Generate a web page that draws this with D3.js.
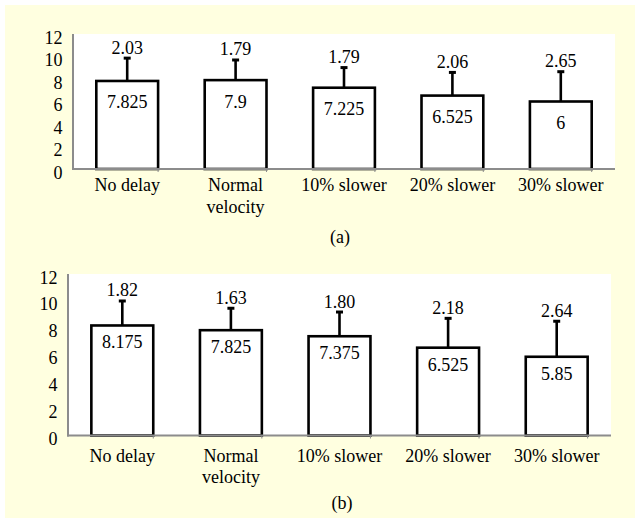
<!DOCTYPE html>
<html>
<head>
<meta charset="utf-8">
<script src="https://cdn.jsdelivr.net/npm/d3@7"></script>
<style>
  html, body { margin: 0; padding: 0; background: #ffffff; }
</style>
</head>
<body>
<svg id="chart" width="635" height="519"></svg>
<script>
// Category names (each entry is a list of label lines)
const categories = [["No delay"], ["Normal", "velocity"], ["10% slower"], ["20% slower"], ["30% slower"]];
const yTicks = [0, 2, 4, 6, 8, 10, 12];

// Panel (a)
const meansA = [7.825, 7.9, 7.225, 6.525, 6];
const sdA = [2.03, 1.79, 1.79, 2.06, 2.65];

// Panel (b)
const meansB = [8.175, 7.825, 7.375, 6.525, 5.85];
const sdB = [1.82, 1.63, 1.80, 2.18, 2.64];

const FAMILY = '"Liberation Serif", "Times New Roman", Tinos, serif';
const FONT = 18;

const svg = d3.select("#chart");

// every label is drawn through this helper so they share one face
function label(sel) {
  return sel
    .style("font-family", FAMILY)
    .style("font-size", FONT + "px")
    .attr("fill", "#000")
    .attr("dominant-baseline", "central");
}

// page background
svg.append("rect")
  .attr("x", 5).attr("y", 5).attr("width", 630).attr("height", 513)
  .attr("fill", "#ffffe0");

const panels = [
  { means: meansA, sd: sdA, caption: "(a)", x0: 73, x1: 615, y0: 34, y1: 169,
    meanDy: 21.5, catDy: 16, captionX: 340, captionY: 237 },
  { means: meansB, sd: sdB, caption: "(b)", x0: 68, x1: 611, y0: 274, y1: 435.5,
    meanDy: 17, catDy: 20, captionX: 342, captionY: 503 }
];

const sdFmt = d3.format(".2f");

panels.forEach(p => {
  const g = svg.append("g");
  const x = d3.scaleBand()
    .domain(d3.range(categories.length))
    .range([p.x0, p.x1])
    .paddingInner(0.43)
    .paddingOuter(0.215);
  const y = d3.scaleLinear().domain([0, 12]).range([p.y1, p.y0]);
  const idx = d3.range(categories.length);

  // plot area
  g.append("rect")
    .attr("x", p.x0).attr("y", p.y0)
    .attr("width", p.x1 - p.x0).attr("height", p.y1 - p.y0)
    .attr("fill", "#ffffff");

  // y tick labels
  label(g.selectAll("text.ytick").data(yTicks).enter().append("text"))
    .attr("class", "ytick")
    .attr("x", p.x0 - 10.5)
    .attr("y", d => y(d) + 3.5)
    .attr("text-anchor", "end")
    .text(d => d);

  // bars
  g.selectAll("rect.bar").data(idx).enter().append("rect")
    .attr("class", "bar")
    .attr("x", i => x(i))
    .attr("y", i => y(p.means[i]))
    .attr("width", x.bandwidth())
    .attr("height", i => y(0) - y(p.means[i]))
    .attr("fill", "#ffffff")
    .attr("stroke", "#000")
    .attr("stroke-width", 2.6);

  // error whiskers
  idx.forEach(i => {
    const cx = x(i) + x.bandwidth() / 2;
    const top = y(p.means[i] + p.sd[i]);
    g.append("line")
      .attr("x1", cx).attr("x2", cx)
      .attr("y1", y(p.means[i])).attr("y2", top)
      .attr("stroke", "#000").attr("stroke-width", 2.6);
    g.append("line")
      .attr("x1", cx - 3.5).attr("x2", cx + 3.5)
      .attr("y1", top).attr("y2", top)
      .attr("stroke", "#000").attr("stroke-width", 3);
  });

  // axis lines
  g.append("line")
    .attr("x1", p.x0).attr("x2", p.x0)
    .attr("y1", p.y0).attr("y2", p.y1 + 1)
    .attr("stroke", "#8c8c8c").attr("stroke-width", 2);
  g.append("line")
    .attr("x1", p.x0 - 1).attr("x2", p.x1)
    .attr("y1", p.y1).attr("y2", p.y1)
    .attr("stroke", "#8c8c8c").attr("stroke-width", 2);

  // small ticks under the axis
  g.selectAll("line.tick").data(idx).enter().append("line")
    .attr("class", "tick")
    .attr("x1", i => x(i) + x.bandwidth()).attr("x2", i => x(i) + x.bandwidth())
    .attr("y1", p.y1).attr("y2", p.y1 + 3)
    .attr("stroke", "#8c8c8c").attr("stroke-width", 1);

  // mean labels inside bars
  label(g.selectAll("text.mean").data(idx).enter().append("text"))
    .attr("class", "mean")
    .attr("x", i => x(i) + x.bandwidth() / 2)
    .attr("y", i => y(p.means[i]) + p.meanDy)
    .attr("text-anchor", "middle")
    .text(i => String(p.means[i]));

  // sd labels above whiskers
  label(g.selectAll("text.sd").data(idx).enter().append("text"))
    .attr("class", "sd")
    .attr("x", i => x(i) + x.bandwidth() / 2)
    .attr("y", i => y(p.means[i] + p.sd[i]) - 10.5)
    .attr("text-anchor", "middle")
    .text(i => sdFmt(p.sd[i]));

  // category labels
  idx.forEach(i => {
    categories[i].forEach((line, k) => {
      label(g.append("text"))
        .attr("x", x(i) + x.bandwidth() / 2)
        .attr("y", p.y1 + p.catDy + k * 21.5)
        .attr("text-anchor", "middle")
        .text(line);
    });
  });

  // caption
  label(g.append("text"))
    .attr("x", p.captionX).attr("y", p.captionY)
    .attr("text-anchor", "middle")
    .text(p.caption);
});
</script>
</body>
</html>
